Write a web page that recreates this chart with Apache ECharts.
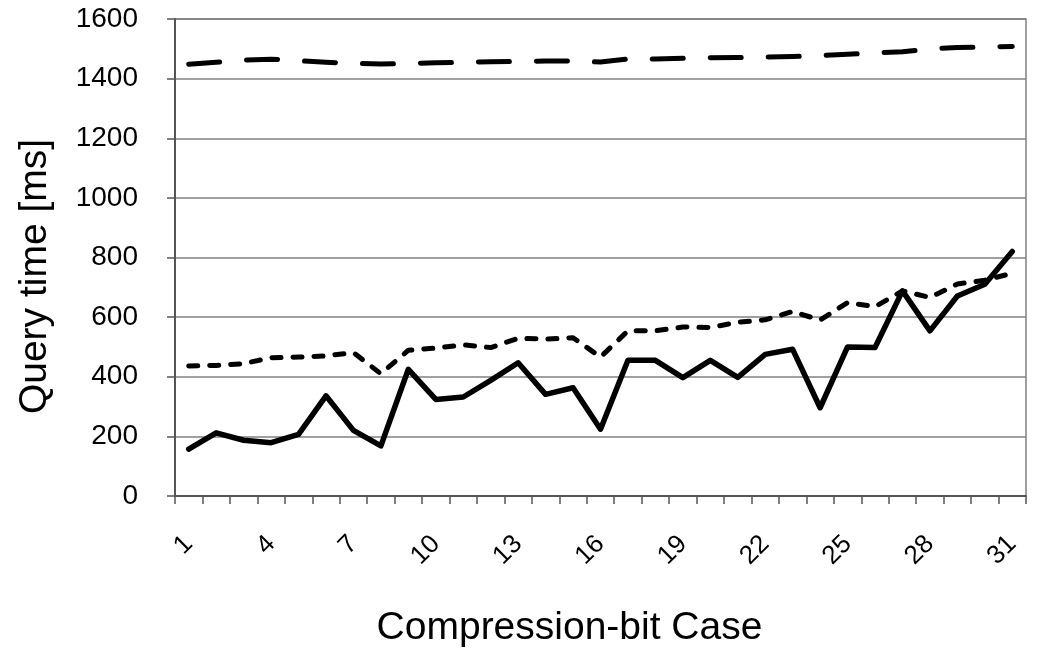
<!DOCTYPE html>
<html>
<head>
<meta charset="utf-8">
<script src="https://cdn.jsdelivr.net/npm/echarts@6/dist/echarts.min.js"></script>
<style>html,body{margin:0;padding:0;background:#fff}#c{width:1047px;height:649px}</style>
</head>
<body>
<div id="c"></div>
<script>
const categories = [];
for (let i = 1; i <= 31; i++) categories.push(String(i));
const longDashed = [1448,1455,1462,1465,1460,1455,1451,1449,1451,1453,1455,1457,1458,1459,1459,1456,1466,1466,1468,1470,1471,1472,1474,1477,1482,1486,1490,1500,1504,1506,1508];
const shortDashed = [436,438,444,464,466,470,481,410,489,496,507,498,529,526,531,466,554,554,567,565,583,591,619,590,649,635,688,666,711,724,747];
const solid = [157,212,187,179,207,336,220,168,425,324,332,388,447,341,363,224,455,455,397,455,398,475,492,296,500,498,688,554,671,710,820];
const yTicks = {min: 0, max: 1600, interval: 200};

const font = 'Liberation Sans, Arial, sans-serif';
const chart = echarts.init(document.getElementById('c'));
chart.setOption({
  animation: false,
  backgroundColor: '#fff',
  grid: {left: 175, right: 21, top: 19, bottom: 153, show: true, borderColor: '#808080', borderWidth: 1.5, outerBoundsMode: 'none', containLabel: false},
  xAxis: {
    type: 'category', data: categories, boundaryGap: true,
    name: 'Compression-bit Case', nameLocation: 'middle', nameGap: 113,
    nameTextStyle: {fontFamily: font, fontSize: 39, color: '#000', padding: [0, 62, 0, 0]},
    axisLine: {lineStyle: {color: '#555', width: 2}},
    axisTick: {show: true, interval: 0, length: 8, lineStyle: {color: '#555', width: 1.5}},
    axisLabel: {interval: 2, rotate: 45, fontFamily: font, fontSize: 26, color: '#000', margin: 44},
    splitLine: {show: false}
  },
  yAxis: {
    type: 'value', min: yTicks.min, max: yTicks.max, interval: yTicks.interval,
    name: 'Query time [ms]', nameLocation: 'middle', nameGap: 120,
    nameTextStyle: {fontFamily: font, fontSize: 39, color: '#000', padding: [0, 38, 0, 0]},
    axisLine: {show: true, lineStyle: {color: '#555', width: 2}},
    axisTick: {show: true, length: 8, lineStyle: {color: '#555', width: 1.5}},
    axisLabel: {fontFamily: font, fontSize: 28, color: '#000', margin: 37, formatter: v => String(v)},
    splitLine: {lineStyle: {color: '#808080', width: 1.5}}
  },
  series: [
    {type: 'line', data: longDashed, symbol: 'none', lineStyle: {color: '#000', width: 5, type: [31, 27], cap: 'round', join: 'round'}},
    {type: 'line', data: shortDashed, symbol: 'none', lineStyle: {color: '#000', width: 5, type: [9, 12], cap: 'round', join: 'round'}},
    {type: 'line', data: solid, symbol: 'none', lineStyle: {color: '#000', width: 5.5, cap: 'round', join: 'round'}}
  ]
});
</script>
</body>
</html>
